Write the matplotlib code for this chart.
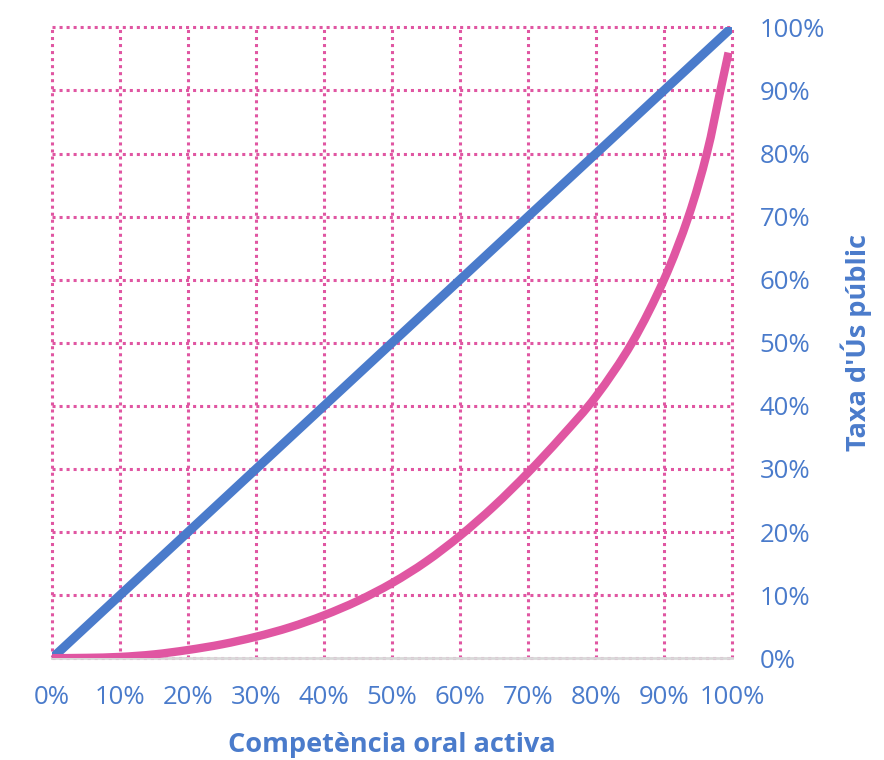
import matplotlib.pyplot as plt
from matplotlib.path import Path
from matplotlib.patches import PathPatch
from matplotlib.ticker import PercentFormatter

plt.rcParams['font.family'] = ['Open Sans', 'DejaVu Sans']

# data
competencia = [0.0, 1.0]
us_lineal = [0.0, 1.0]

comp_corba = [0.0, 0.05, 0.10, 0.15, 0.20, 0.25, 0.30, 0.35, 0.40, 0.45, 0.50,
              0.55, 0.60, 0.65, 0.70, 0.75, 0.80, 0.853, 0.900, 0.936, 0.963,
              0.983, 0.995]
us_corba = [0.0, 0.0005, 0.002, 0.006, 0.013, 0.022, 0.034, 0.049, 0.068, 0.091,
            0.119, 0.153, 0.194, 0.241, 0.294, 0.352, 0.415, 0.50, 0.60, 0.70,
            0.80, 0.90, 0.96]

ticks = [i / 10 for i in range(11)]

blau = '#4A7BCB'
rosa = '#E056A2'


def linia_suau(xs, ys):
    # línia suavitzada tipus Excel (corbes de Bézier per Catmull-Rom)
    pts = list(zip(xs, ys))
    n = len(pts)
    verts = [pts[0]]
    codes = [Path.MOVETO]
    for i in range(n - 1):
        p0 = pts[i - 1] if i > 0 else pts[i]
        p1 = pts[i]
        p2 = pts[i + 1]
        p3 = pts[i + 2] if i + 2 < n else pts[i + 1]
        c1 = (p1[0] + (p2[0] - p0[0]) / 6, p1[1] + (p2[1] - p0[1]) / 6)
        c2 = (p2[0] - (p3[0] - p1[0]) / 6, p2[1] - (p3[1] - p1[1]) / 6)
        verts += [c1, c2, p2]
        codes += [Path.CURVE4] * 3
    return Path(verts, codes)


fig = plt.figure(figsize=(8.84, 7.6), dpi=100)
ax = fig.add_axes([0.059, 0.134, 0.769, 0.830])

ax.plot(competencia, us_lineal, color=blau, lw=6.5, solid_capstyle='butt', zorder=3)
ax.add_patch(PathPatch(linia_suau(comp_corba, us_corba), fill=False,
                       edgecolor=rosa, lw=6.0, capstyle='butt',
                       joinstyle='round', zorder=4))

ax.set_xlim(0, 1)
ax.set_ylim(0, 1)
ax.set_xticks(ticks)
ax.set_yticks(ticks)
ax.xaxis.set_major_formatter(PercentFormatter(1.0, decimals=0))
ax.yaxis.set_major_formatter(PercentFormatter(1.0, decimals=0))
ax.yaxis.tick_right()
ax.yaxis.set_label_position('right')
ax.tick_params(axis='both', length=0, labelsize=18.5, labelcolor=blau)
ax.tick_params(axis='x', pad=19)
ax.tick_params(axis='y', pad=20)
for lab in ax.get_yticklabels():
    lab.set_horizontalalignment('left')

ax.grid(True, color=rosa, lw=2.2, linestyle=(0, (1, 1.3)))
for gl in ax.get_xgridlines() + ax.get_ygridlines():
    gl.set_clip_on(False)
ax.set_axisbelow(True)

for s in ['top', 'left', 'right']:
    ax.spines[s].set_visible(False)
ax.spines['bottom'].set_color('#D9D9D9')
ax.spines['bottom'].set_linewidth(2.0)
ax.spines['bottom'].set_zorder(2.5)

ax.set_xlabel('Competència oral activa', fontsize=19.5, fontweight='bold',
              color=blau, labelpad=16)
ax.set_ylabel("Taxa d'Ús públic", fontsize=19.5, fontweight='bold',
              color=blau, labelpad=11)

fig.savefig('out.png', dpi=100)
